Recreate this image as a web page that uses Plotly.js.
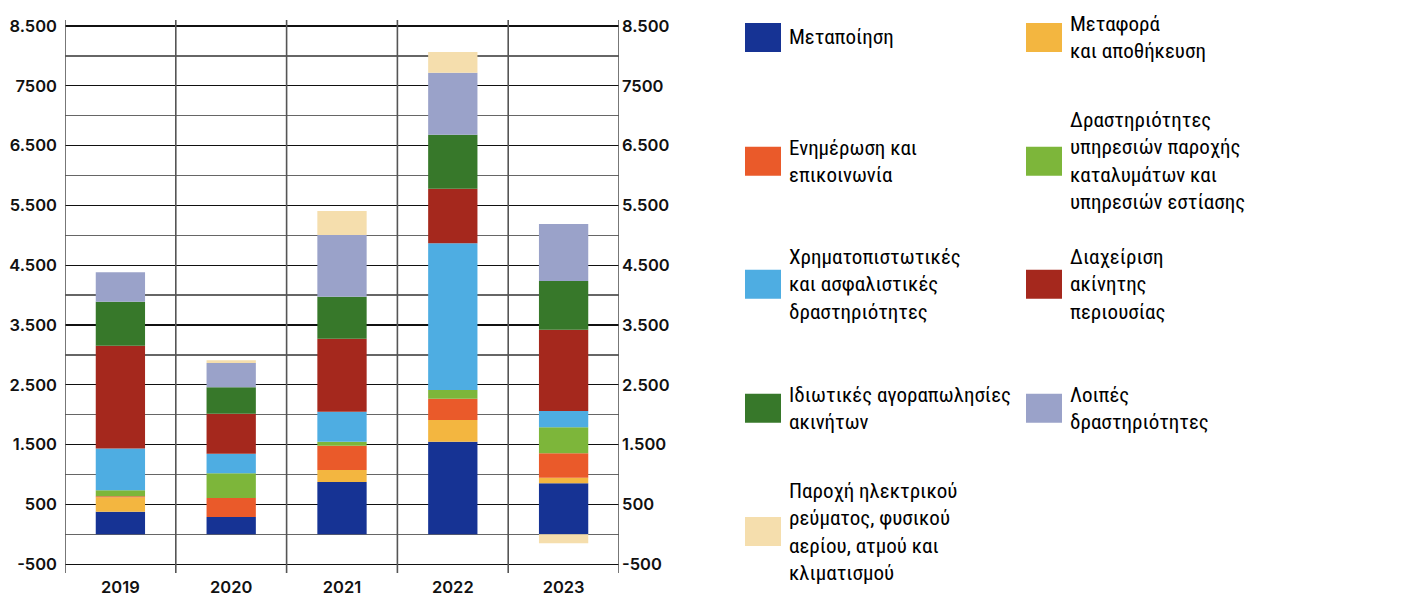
<!DOCTYPE html>
<html><head><meta charset="utf-8">
<script src="https://cdn.plot.ly/plotly-3.0.1.min.js"></script>
<style>html,body{margin:0;padding:0;background:#fff}#chart{width:1413px;height:599px}</style>
</head><body><div id="chart"></div>
<script>
const years = ['2019','2020','2021','2022','2023'];
const seriesNames = [
  'Μεταποίηση',
  'Μεταφορά<br>και αποθήκευση',
  'Ενημέρωση και<br>επικοινωνία',
  'Δραστηριότητες<br>υπηρεσιών παροχής<br>καταλυμάτων και<br>υπηρεσιών εστίασης',
  'Χρηματοπιστωτικές<br>και ασφαλιστικές<br>δραστηριότητες',
  'Διαχείριση<br>ακίνητης<br>περιουσίας',
  'Ιδιωτικές αγοραπωλησίες<br>ακινήτων',
  'Λοιπές<br>δραστηριότητες',
  'Παροχή ηλεκτρικού<br>ρεύματος, φυσικού<br>αερίου, ατμού και<br>κλιματισμού'
];
const manufacturing   = [378, 289, 875, 1549, 853];
const transport       = [240, 0, 200, 362, 94];
const information     = [18, 318, 407, 357, 407];
const accommodation   = [100, 413, 67, 145, 435];
const financial       = [700, 328, 501, 2453, 273];
const realEstateMgmt  = [1716, 669, 1221, 914, 1359];
const privateSales    = [736, 441, 702, 902, 815];
const otherActivities = [496, 407, 1032, 1037, 953];
const electricity     = [0, 45, 401, 346, -150];
const seriesValues = [manufacturing, transport, information, accommodation, financial, realEstateMgmt, privateSales, otherActivities, electricity];
const colors = ['#163394','#F3B640','#EA5A2A','#7DB63A','#4EADE2','#A5281D','#37782A','#9AA2C9','#F5DEAD'];
const tickVals = [-500, 500, 1500, 2500, 3500, 4500, 5500, 6500, 7500, 8500];
const tickText = ['-500','500','1.500','2.500','3.500','4.500','5.500','6.500','7500','8.500'];
const minorVals = [0, 1000, 2000, 3000, 4000, 5000, 6000, 7000, 8000];

const W = 1413, H = 599;
const M = {l: 65, r: 794, t: 20, b: 26};
const pw = W - M.l - M.r, ph = H - M.t - M.b;
const px = x => (x - M.l) / pw;
const py = y => 1 - (y - M.t) / ph;

const traces = seriesNames.map((n, i) => ({
  type: 'bar', x: years, y: seriesValues[i], name: n,
  marker: {color: colors[i], line: {width: 0}}, showlegend: false, hoverinfo: 'x+y+name'
}));
traces.push({type: 'scatter', x: years, y: manufacturing, yaxis: 'y2', mode: 'none', showlegend: false, hoverinfo: 'skip'});

const shapes = [];
for (let k = 0; k <= years.length; k++) {
  shapes.push({type: 'line', xref: 'x', yref: 'paper', x0: k - 0.5, x1: k - 0.5, y0: 0, y1: 1,
    line: {color: '#555', width: 1.6}, layer: 'above'});
}
const annotations = [];
const colX = [745, 1026];
const rowY = [37.5, 161.3, 284.3, 408.3, 531.5];
seriesNames.forEach((n, i) => {
  const col = i % 2, row = Math.floor(i / 2);
  const x0 = colX[col], yc = rowY[row];
  shapes.push({type: 'rect', xref: 'paper', yref: 'paper', x0: px(x0), x1: px(x0 + 36), y0: py(yc - 14.5), y1: py(yc + 14.5),
    fillcolor: colors[i], line: {width: 0}});
  annotations.push({xref: 'paper', yref: 'paper', x: px(x0 + 42), y: py(yc), xanchor: 'left', yanchor: 'middle',
    align: 'left', showarrow: false, text: n,
    font: {family: '"Liberation Sans Narrow", "Roboto Condensed", Roboto, sans-serif', size: 21, color: '#000'}});
});

const tickFont = {family: 'Inter, sans-serif', size: 16.5, color: '#111', weight: 600};
const layout = {
  width: W, height: H, margin: M, paper_bgcolor: '#fff', plot_bgcolor: '#fff',
  barmode: 'relative', bargap: 0.555, showlegend: false,
  xaxis: {type: 'category', range: [-0.5, 4.5], showgrid: false, zeroline: false, showline: false,
    ticks: '', tickfont: tickFont, ticklabelstandoff: 2, fixedrange: true},
  yaxis: {range: [-647, 8600], tickmode: 'array', tickvals: tickVals, ticktext: tickText,
    showgrid: true, gridcolor: '#111', gridwidth: 1.3, zeroline: false, showline: false, ticks: '',
    tickfont: tickFont, ticklabelstandoff: 7,
    minor: {tickmode: 'array', tickvals: minorVals, showgrid: true, gridcolor: '#666', gridwidth: 1.3, ticks: ''}},
  yaxis2: {range: [-647, 8600], overlaying: 'y', side: 'right', tickmode: 'array', tickvals: tickVals, ticktext: tickText,
    showgrid: false, zeroline: false, showline: false, ticks: '', tickfont: tickFont, ticklabelstandoff: 2},
  shapes: shapes, annotations: annotations
};
Plotly.newPlot('chart', traces, layout, {displayModeBar: false, staticPlot: true});
</script></body></html>
